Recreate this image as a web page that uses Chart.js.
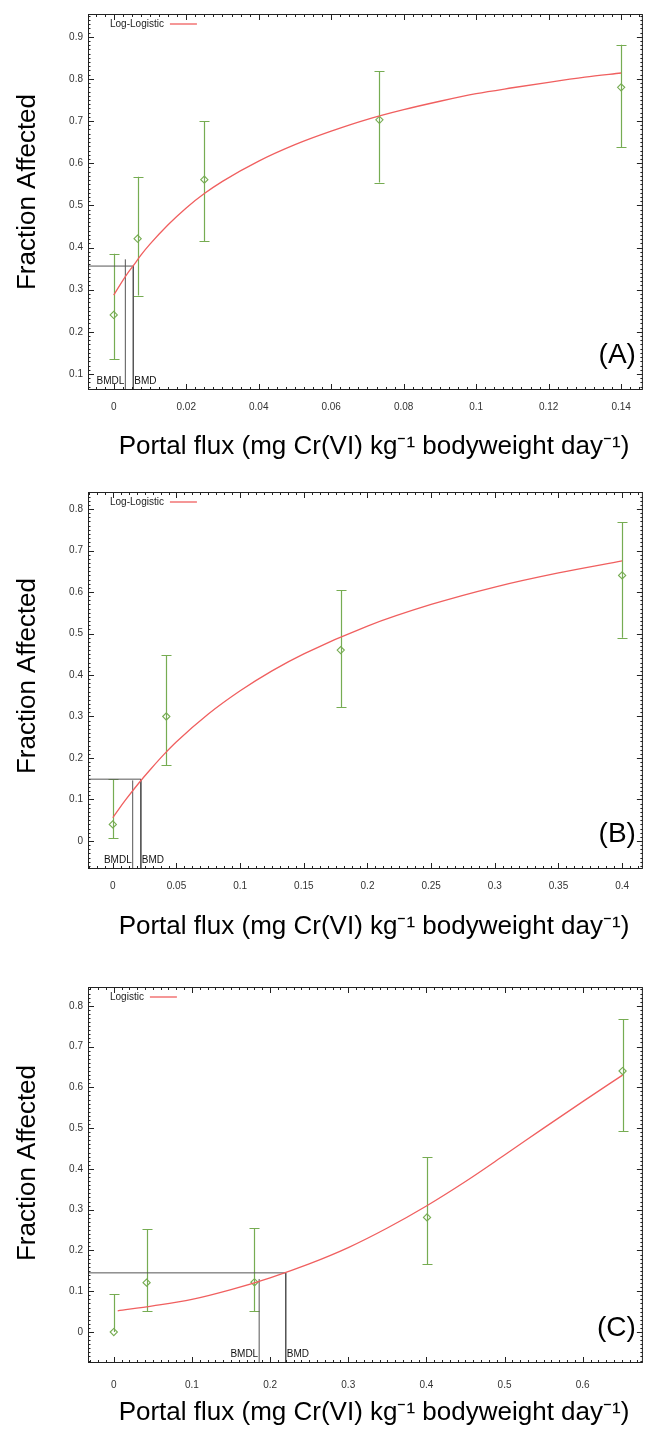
<!DOCTYPE html>
<html>
<head>
<meta charset="utf-8">
<script src="https://cdn.jsdelivr.net/npm/chart.js@4.4.1/dist/chart.umd.min.js"></script>
<style>
body{margin:0;background:#fff;width:648px;height:1429px;overflow:hidden}
canvas{position:absolute;left:0}
</style>
</head>
<body>
<canvas id="chartA" width="648" height="472" style="top:0"></canvas>
<canvas id="chartB" width="648" height="485" style="top:472px"></canvas>
<canvas id="chartC" width="648" height="472" style="top:957px"></canvas>
<script>
// ---- panel A (log-logistic) ----
const doseA = [0, 0.0066, 0.025, 0.0733, 0.14]
const fracA = [0.24, 0.421, 0.561, 0.703, 0.78]
const lowA  = [0.135, 0.286, 0.415, 0.554, 0.638]
const highA = [0.385, 0.568, 0.699, 0.818, 0.881]
const fitXA = [0, 0.002, 0.004, 0.0054, 0.0075, 0.01, 0.015, 0.02, 0.025, 0.03, 0.04, 0.05, 0.06, 0.07, 0.08, 0.09, 0.1, 0.11, 0.12, 0.13, 0.14]
const fitYA = [0.287, 0.315, 0.341, 0.357, 0.382, 0.408, 0.454, 0.494, 0.528, 0.557, 0.605, 0.644, 0.676, 0.704, 0.727, 0.747, 0.765, 0.779, 0.792, 0.804, 0.814]
const bmdA = [0.0032, 0.0054, 0.356, 0.372]   // BMDL, BMD, BMR, top of BMDL line
const xTicksA = [0, 0.02, 0.04, 0.06, 0.08, 0.1, 0.12, 0.14]
const yTicksA = [0.1, 0.2, 0.3, 0.4, 0.5, 0.6, 0.7, 0.8, 0.9]

// ---- panel B (log-logistic) ----
const doseB = [0, 0.042, 0.179, 0.4]
const fracB = [0.04, 0.30, 0.46, 0.64]
const lowB  = [0.0065, 0.182, 0.322, 0.49]
const highB = [0.149, 0.448, 0.605, 0.768]
const fitXB = [0, 0.005, 0.01, 0.02, 0.03, 0.04, 0.05, 0.075, 0.1, 0.125, 0.15, 0.2, 0.25, 0.3, 0.35, 0.4]
const fitYB = [0.056, 0.078, 0.099, 0.138, 0.174, 0.208, 0.239, 0.306, 0.362, 0.41, 0.451, 0.518, 0.57, 0.612, 0.646, 0.675]
const bmdB = [0.0156, 0.022, 0.149, 0.146]
const xTicksB = [0, 0.05, 0.1, 0.15, 0.2, 0.25, 0.3, 0.35, 0.4]
const yTicksB = [0, 0.1, 0.2, 0.3, 0.4, 0.5, 0.6, 0.7, 0.8]

// ---- panel C (logistic) ----
const doseC = [0, 0.042, 0.18, 0.4008, 0.651]
const fracC = [0, 0.121, 0.122, 0.281, 0.64]
const lowC  = [0, 0.051, 0.051, 0.167, 0.492]
const highC = [0.093, 0.252, 0.255, 0.428, 0.767]
const fitXC = [0.005, 0.05, 0.1, 0.15, 0.2, 0.25, 0.3, 0.35, 0.4, 0.45, 0.5, 0.55, 0.6, 0.651]
const fitYC = [0.052, 0.064, 0.08, 0.104, 0.133, 0.167, 0.207, 0.255, 0.309, 0.369, 0.434, 0.5, 0.565, 0.63]
const bmdC = [0.186, 0.22, 0.145, 0.13]
const xTicksC = [0, 0.1, 0.2, 0.3, 0.4, 0.5, 0.6]
const yTicksC = [0, 0.1, 0.2, 0.3, 0.4, 0.5, 0.6, 0.7, 0.8]

const FONT = "'Liberation Sans', Arial, Helvetica, sans-serif"
const GREEN = 'rgb(118,172,82)'
const RED = 'rgb(240,95,95)'
const XTITLE = 'Portal flux (mg Cr(VI) kg\u207B\u00B9 bodyweight day\u207B\u00B9)'
const YTITLE = 'Fraction Affected'

const decor = {
  id:'decor',
  beforeDatasetsDraw(chart, args, o){
    const {ctx, scales:{x, y}} = chart
    ctx.save()
    ctx.strokeStyle = GREEN
    ctx.lineWidth = 1.2
    o.dose.forEach((d,i)=>{
      const px = Math.round(x.getPixelForValue(d)) + 0.5
      const p1 = y.getPixelForValue(o.low[i])
      const p2 = y.getPixelForValue(o.high[i])
      ctx.beginPath()
      ctx.moveTo(px, p1); ctx.lineTo(px, p2)
      ctx.moveTo(px-5, Math.round(p2)+0.5); ctx.lineTo(px+5, Math.round(p2)+0.5)
      if (o.low[i] !== o.frac[i]) {
        ctx.moveTo(px-5, Math.round(p1)+0.5); ctx.lineTo(px+5, Math.round(p1)+0.5)
      }
      ctx.stroke()
    })
    ctx.restore()
  },
  afterDraw(chart, args, o){
    const {ctx, chartArea:a, scales:{x, y}} = chart
    ctx.save()
    // frame
    ctx.strokeStyle = '#222'
    ctx.lineWidth = 1
    ctx.strokeRect(a.left+0.5, a.top+0.5, a.right-a.left-1, a.bottom-a.top-1)
    // inward ticks, major and minor, on all four sides
    ctx.beginPath()
    const xs = (v, len) => {
      const px = Math.round(x.getPixelForValue(v)) + 0.5
      ctx.moveTo(px, a.bottom); ctx.lineTo(px, a.bottom-len)
      ctx.moveTo(px, a.top); ctx.lineTo(px, a.top+len)
    }
    const ys = (v, len) => {
      const py = Math.round(y.getPixelForValue(v)) + 0.5
      ctx.moveTo(a.left, py); ctx.lineTo(a.left+len, py)
      ctx.moveTo(a.right, py); ctx.lineTo(a.right-len, py)
    }
    for (let k = Math.ceil(x.min/o.xMinor); k*o.xMinor <= x.max; k++) xs(k*o.xMinor, 3)
    for (let k = Math.ceil(y.min/0.01); k*0.01 <= y.max; k++) ys(k*0.01, 2.5)
    x.ticks.forEach(t => xs(t.value, 6))
    y.ticks.forEach(t => ys(t.value, 6))
    ctx.stroke()

    // legend
    ctx.font = '10px ' + FONT
    ctx.fillStyle = '#222'
    ctx.textBaseline = 'middle'
    ctx.textAlign = 'left'
    const lx = a.left + 22, ly = a.top + 10
    ctx.fillText(o.fitName, lx, ly)
    const w = ctx.measureText(o.fitName).width
    ctx.strokeStyle = RED
    ctx.lineWidth = 1.3
    ctx.beginPath(); ctx.moveTo(lx+w+6, ly); ctx.lineTo(lx+w+33, ly); ctx.stroke()

    // BMDL / BMD labels
    ctx.fillStyle = '#111'
    ctx.textAlign = 'right'
    ctx.fillText('BMDL', x.getPixelForValue(o.bmd[0]) - 1, a.bottom - 9)
    ctx.textAlign = 'left'
    ctx.fillText('BMD', x.getPixelForValue(o.bmd[1]) + 1, a.bottom - 9)

    // panel letter
    ctx.font = '28px ' + FONT
    ctx.fillStyle = '#000'
    ctx.textAlign = 'right'
    ctx.fillText(o.letter, a.right - 7, a.bottom - 35)

    // axis titles
    ctx.font = '26px ' + FONT
    ctx.textAlign = 'center'
    ctx.fillText(XTITLE, 374, o.xTitleY)
    ctx.translate(28, o.yTitleY)
    ctx.rotate(-Math.PI/2)
    ctx.fillText(YTITLE, 0, 0)
    ctx.restore()
  }
}

function makeChart(id, p){
  const pts = p.dose.map((d,i)=>({x:d, y:p.frac[i]}))
  const fit = p.fitX.map((d,i)=>({x:d, y:p.fitY[i]}))
  const [bmdl, bmd, bmr, bmdlTop] = p.bmd
  return new Chart(document.getElementById(id), {
    type:'scatter',
    data:{datasets:[
      {data:fit, showLine:true, borderColor:RED, borderWidth:1.3, pointRadius:0, cubicInterpolationMode:'monotone'},
      {data:[{x:p.xMin, y:bmr},{x:bmd, y:bmr},{x:bmd, y:p.yMin}], showLine:true, borderColor:'#555', borderWidth:1, pointRadius:0},
      {data:[{x:bmdl, y:p.yMin},{x:bmdl, y:bmdlTop}], showLine:true, borderColor:'#555', borderWidth:1, pointRadius:0},
      {data:pts, pointStyle:'rectRot', pointRadius:3.6, borderColor:GREEN, backgroundColor:'rgba(0,0,0,0)', borderWidth:1.1}
    ]},
    options:{
      responsive:false,
      animation:false,
      devicePixelRatio:1,
      layout:{padding:{top:p.top, right:1, left:0, bottom:0}},
      plugins:{
        legend:{display:false},
        tooltip:{enabled:false},
        decor:{dose:p.dose, frac:p.frac, low:p.low, high:p.high, bmd:p.bmd, fitName:p.fitName, letter:p.letter,
          xMinor:p.xMinor, xTitleY:p.xTitleY, yTitleY:p.yTitleY}
      },
      scales:{
        x:{
          type:'linear', min:p.xMin, max:p.xMax,
          afterBuildTicks: s => { s.ticks = p.xTicks.map(v=>({value:v})) },
          afterFit: s => { s.height = p.xAxisH },
          ticks:{callback: v => String(+v.toFixed(3)), font:{family:FONT, size:10}, color:'#333', padding:p.tickPad, maxRotation:0, autoSkip:false},
          grid:{display:false, drawTicks:false},
          border:{display:false}
        },
        y:{
          type:'linear', min:p.yMin, max:p.yMax,
          afterBuildTicks: s => { s.ticks = p.yTicks.map(v=>({value:v})) },
          afterFit: s => { s.width = 88 },
          ticks:{callback: v => String(+v.toFixed(3)), font:{family:FONT, size:10}, color:'#333', padding:5, autoSkip:false},
          grid:{display:false, drawTicks:false},
          border:{display:false}
        }
      }
    },
    plugins:[decor]
  })
}

makeChart('chartA', {dose:doseA, frac:fracA, low:lowA, high:highA, fitX:fitXA, fitY:fitYA, bmd:bmdA,
  xTicks:xTicksA, yTicks:yTicksA, xMin:-0.0071, xMax:0.146, yMin:0.062, yMax:0.954, xMinor:0.0025,
  top:14, xAxisH:82, tickPad:11, xTitleY:447, yTitleY:192, fitName:'Log-Logistic', letter:'(A)'})

makeChart('chartB', {dose:doseB, frac:fracB, low:lowB, high:highB, fitX:fitXB, fitY:fitYB, bmd:bmdB,
  xTicks:xTicksB, yTicks:yTicksB, xMin:-0.0195, xMax:0.4163, yMin:-0.0675, yMax:0.841, xMinor:0.00625,
  top:20, xAxisH:88, tickPad:11, xTitleY:455, yTitleY:204, fitName:'Log-Logistic', letter:'(B)'})

makeChart('chartC', {dose:doseC, frac:fracC, low:lowC, high:highC, fitX:fitXC, fitY:fitYC, bmd:bmdC,
  xTicks:xTicksC, yTicks:yTicksC, xMin:-0.033, xMax:0.677, yMin:-0.076, yMax:0.846, xMinor:0.01,
  top:30, xAxisH:66, tickPad:16, xTitleY:456, yTitleY:206, fitName:'Logistic', letter:'(C)'})
</script>
</body>
</html>
